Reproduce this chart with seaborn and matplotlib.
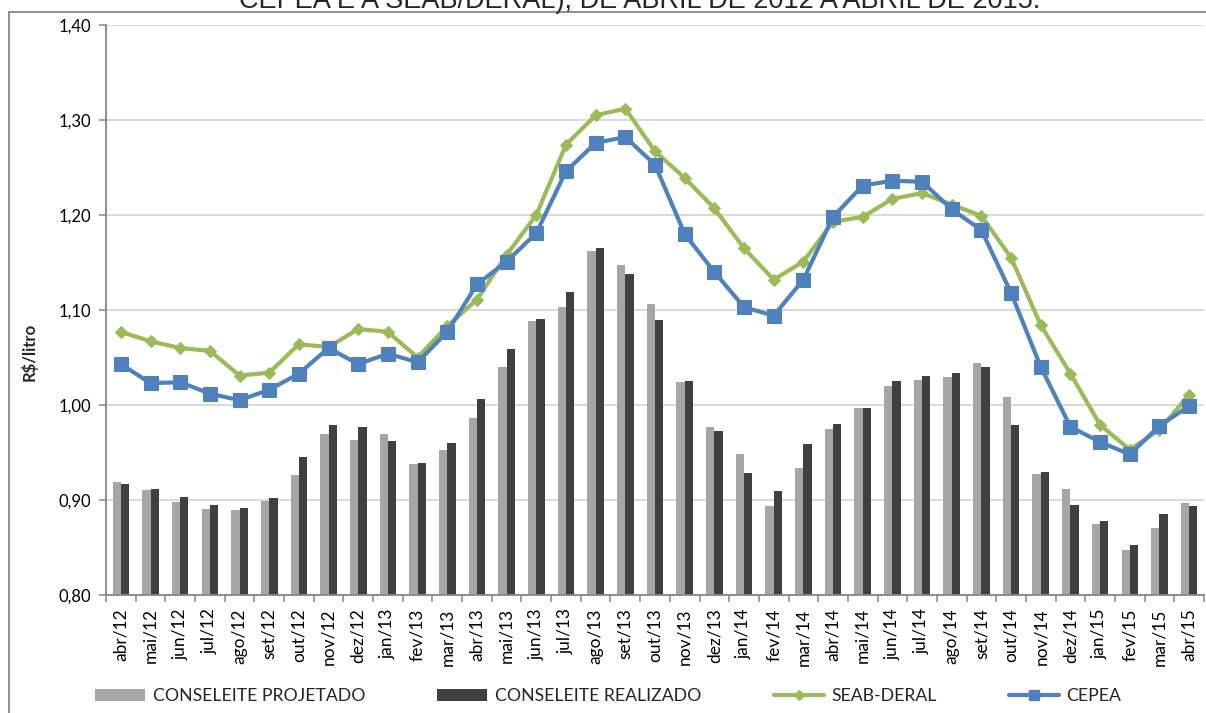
import numpy as np
import pandas as pd
import matplotlib
matplotlib.use("Agg")
import matplotlib.pyplot as plt
import seaborn as sns
from matplotlib.patches import Patch, Rectangle
from matplotlib.lines import Line2D
from matplotlib.ticker import FuncFormatter, FixedLocator

# Monthly milk prices paid to producers (R$/litro), abr/2012 - abr/2015
meses = ["abr/12", "mai/12", "jun/12", "jul/12", "ago/12", "set/12", "out/12", "nov/12",
         "dez/12", "jan/13", "fev/13", "mar/13", "abr/13", "mai/13", "jun/13", "jul/13",
         "ago/13", "set/13", "out/13", "nov/13", "dez/13", "jan/14", "fev/14", "mar/14",
         "abr/14", "mai/14", "jun/14", "jul/14", "ago/14", "set/14", "out/14", "nov/14",
         "dez/14", "jan/15", "fev/15", "mar/15", "abr/15"]

conseleite_projetado = [0.919, 0.911, 0.898, 0.891, 0.890, 0.899, 0.926, 0.969, 0.963, 0.969,
                        0.938, 0.953, 0.986, 1.040, 1.088, 1.103, 1.162, 1.147, 1.106, 1.024,
                        0.977, 0.948, 0.894, 0.934, 0.975, 0.997, 1.020, 1.026, 1.029, 1.044,
                        1.008, 0.927, 0.912, 0.875, 0.847, 0.871, 0.897]

conseleite_realizado = [0.917, 0.912, 0.903, 0.895, 0.892, 0.902, 0.945, 0.979, 0.977, 0.962,
                        0.939, 0.960, 1.006, 1.059, 1.091, 1.119, 1.165, 1.138, 1.089, 1.025,
                        0.973, 0.928, 0.910, 0.959, 0.980, 0.997, 1.025, 1.031, 1.034, 1.040,
                        0.979, 0.930, 0.895, 0.878, 0.853, 0.885, 0.894]

seab_deral = [1.077, 1.067, 1.060, 1.057, 1.031, 1.034, 1.064, 1.061, 1.080, 1.077,
              1.050, 1.083, 1.111, 1.158, 1.200, 1.274, 1.305, 1.312, 1.267, 1.239,
              1.207, 1.165, 1.132, 1.151, 1.193, 1.198, 1.217, 1.223, 1.211, 1.199,
              1.155, 1.084, 1.033, 0.979, 0.953, 0.974, 1.011]

cepea = [1.043, 1.023, 1.024, 1.012, 1.005, 1.016, 1.033, 1.060, 1.043, 1.054,
         1.045, 1.077, 1.127, 1.151, 1.181, 1.246, 1.276, 1.282, 1.253, 1.180,
         1.140, 1.103, 1.094, 1.132, 1.198, 1.231, 1.236, 1.235, 1.206, 1.184,
         1.118, 1.040, 0.977, 0.961, 0.948, 0.978, 0.999]

serie_barras = ["CONSELEITE PROJETADO", "CONSELEITE REALIZADO"]
serie_linhas = ["SEAB-DERAL", "CEPEA"]

COR_PROJ = "#A6A6A6"
COR_REAL = "#404040"
COR_SEAB = "#9BBB59"
COR_CEPEA = "#4F81BD"
COR_EIXO = "#868686"
COR_GRADE = "#D9D9D9"

sns.set_theme(style="white")
plt.rcParams["font.family"] = ["Lato", "DejaVu Sans"]

W, H = 1206, 713
fig = plt.figure(figsize=(W / 100, H / 100), dpi=100)
ax = fig.add_axes([106 / W, 1 - 595 / H, (1204 - 106) / W, (595 - 25) / H])

n = len(meses)
barras = pd.DataFrame({
    "mes": meses * 2,
    "valor": conseleite_projetado + conseleite_realizado,
    "serie": [serie_barras[0]] * n + [serie_barras[1]] * n,
})
sns.barplot(data=barras, x="mes", y="valor", hue="serie", order=meses,
            hue_order=serie_barras, palette=[COR_PROJ, COR_REAL], saturation=1,
            width=0.56, gap=0, linewidth=0, edgecolor="none", legend=False, ax=ax,
            errorbar=None)

linhas = pd.DataFrame({"pos": np.arange(n), "SEAB-DERAL": seab_deral, "CEPEA": cepea})
sns.lineplot(data=linhas, x="pos", y="SEAB-DERAL", color=COR_SEAB, linewidth=3,
             marker="D", markersize=6.5, markeredgecolor=COR_SEAB, ax=ax, zorder=3)
sns.lineplot(data=linhas, x="pos", y="CEPEA", color=COR_CEPEA, linewidth=3,
             marker="s", markersize=9.5, markeredgecolor=COR_CEPEA, ax=ax, zorder=4)

# Axes limits, ticks and grid
ax.set_xlim(-0.5, n - 0.5)
ax.set_ylim(0.80, 1.40)
ax.set_xlabel("")
ax.set_ylabel("")
ax.set_yticks(np.arange(0.80, 1.401, 0.10))
ax.yaxis.set_major_formatter(FuncFormatter(lambda v, p: f"{v:.2f}".replace(".", ",")))
ax.set_xticks(np.arange(n))
ax.set_xticklabels(meses, rotation=90, fontsize=12.5)
ax.xaxis.set_minor_locator(FixedLocator(np.arange(-0.5, n, 1.0)))
ax.tick_params(axis="x", which="major", length=0, pad=9.5, bottom=True, labelcolor="black")
ax.tick_params(axis="x", which="minor", length=5, width=1.1, color=COR_EIXO,
               direction="out", bottom=True)
ax.tick_params(axis="y", which="major", length=5, width=1.1, color=COR_EIXO,
               direction="out", left=True, pad=6, labelsize=12, labelcolor="black")

ax.yaxis.grid(True, color=COR_GRADE, linewidth=1.4)
ax.xaxis.grid(False)
ax.set_axisbelow(True)
for lado in ("top", "right"):
    ax.spines[lado].set_visible(False)
for lado in ("left", "bottom"):
    ax.spines[lado].set_color(COR_EIXO)
    ax.spines[lado].set_linewidth(1.3)

fig.text(29 / W, 1 - 352 / H, "R$/litro", rotation=90, ha="center", va="center",
         fontsize=12, fontweight="bold")

# Chart-area frame and the title line above it
fig.patches.append(Rectangle((9 / W, -0.1), 1.2, 1 - 12 / H + 0.1, transform=fig.transFigure,
                             fill=False, edgecolor=COR_EIXO, linewidth=1.3))
fig.text(640 / W, 1 - 8 / H, "CEPEA E A SEAB/DERAL), DE ABRIL DE 2012 A ABRIL DE 2015.",
         ha="center", va="baseline", fontsize=19.5,
         family=["Liberation Sans", "DejaVu Sans"])

handles = [
    Patch(facecolor=COR_PROJ, edgecolor="none"),
    Patch(facecolor=COR_REAL, edgecolor="none"),
    Line2D([], [], color=COR_SEAB, linewidth=3, marker="D", markersize=5,
           markeredgecolor=COR_SEAB),
    Line2D([], [], color=COR_CEPEA, linewidth=3, marker="s", markersize=7,
           markeredgecolor=COR_CEPEA),
]
fig.legend(handles, serie_barras + serie_linhas, loc="center left",
           bbox_to_anchor=(95 / W, 1 - 696 / H), ncol=4, frameon=False, fontsize=12.7,
           handlelength=2.84, handleheight=0.7, handletextpad=0.42, columnspacing=4.1,
           borderaxespad=0, borderpad=0)

fig.savefig("out.png", dpi=100)
